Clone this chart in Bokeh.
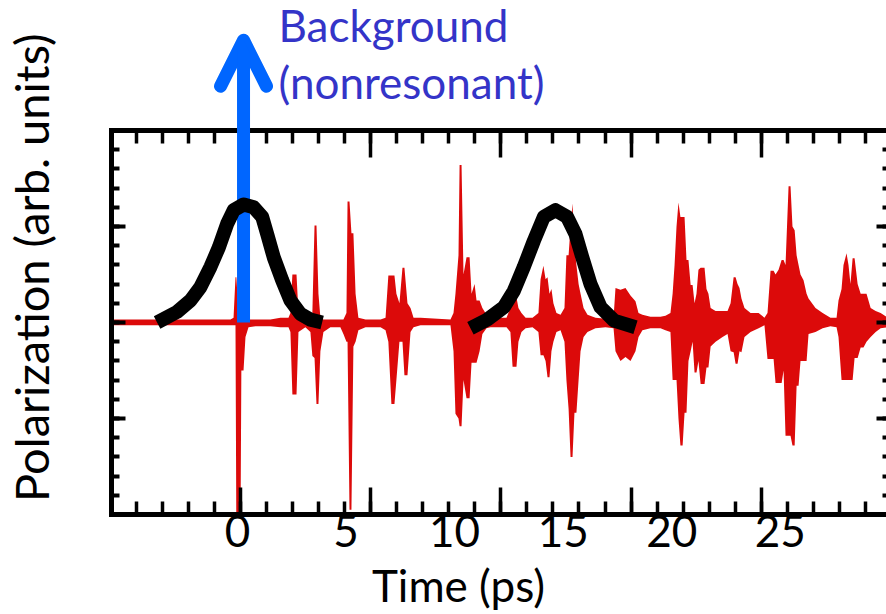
from bokeh.plotting import figure
from bokeh.models import (Range1d, LinearAxis, FixedTicker, SingleIntervalTicker,
                          Arrow, OpenHead, Label)
from bokeh.embed import file_html
from bokeh.resources import INLINE

# ---------------- data ----------------
# red polarization trace: time (ps) with upper / lower envelope of the fast oscillation
t_ps = [-5.80, -4.01, -0.32, -0.18, -0.09, -0.05, 0.05, 0.14, 0.18, 0.28,
        0.37, 0.51, 0.83, 1.52, 1.98, 2.35, 2.44, 2.53, 2.72, 2.81,
        3.13, 3.36, 3.45, 3.55, 3.64, 3.73, 3.82, 3.96, 4.28, 4.74,
        4.88, 5.02, 5.07, 5.16, 5.25, 5.34, 5.44, 5.57, 5.90, 6.59,
        6.82, 6.95, 7.09, 7.23, 7.32, 7.46, 7.60, 7.69, 7.83, 7.97,
        8.11, 8.43, 9.81, 9.95, 10.04, 10.18, 10.23, 10.32, 10.41, 10.55,
        10.69, 10.78, 10.92, 11.01, 11.15, 11.28, 11.47, 11.65, 12.11, 12.39,
        12.57, 12.67, 12.85, 12.94, 13.08, 13.27, 13.59, 13.86, 13.96, 14.09,
        14.19, 14.28, 14.37, 14.46, 14.55, 14.69, 14.88, 15.06, 15.15, 15.25,
        15.34, 15.43, 15.52, 15.61, 15.71, 15.80, 15.94, 16.12, 16.49, 16.95,
        17.32, 17.41, 17.64, 17.87, 18.10, 18.33, 18.47, 18.65, 19.02, 19.48,
        19.71, 19.94, 20.04, 20.13, 20.22, 20.31, 20.40, 20.50, 20.59, 20.68,
        20.77, 20.87, 20.96, 21.05, 21.14, 21.23, 21.33, 21.42, 21.51, 21.60,
        21.69, 21.79, 22.02, 22.34, 22.57, 22.71, 22.85, 22.94, 23.03, 23.12,
        23.21, 23.35, 23.63, 24.00, 24.27, 24.41, 24.55, 24.69, 24.78, 24.92,
        25.06, 25.15, 25.24, 25.38, 25.47, 25.56, 25.66, 25.75, 25.84, 25.93,
        26.07, 26.21, 26.30, 26.62, 26.95, 27.31, 27.59, 27.68, 27.82, 27.91,
        28.05, 28.14, 28.23, 28.33, 28.42, 28.56, 28.70, 28.83, 28.97, 29.16,
        29.39, 29.62, 29.89]

pol_upper = [0.03, 0.03, 0.03, 0.05, 0.47, 0.47, 0.10, 0.05, 0.03, 0.03,
             0.03, 0.03, 0.03, 0.03, 0.05, 0.05, 0.10, 0.50, 0.50, 0.10,
             0.05, 0.05, 0.10, 1.01, 1.01, 0.30, 0.05, 0.03, 0.03, 0.03,
             0.03, 0.10, 1.26, 1.26, 0.93, 0.93, 0.30, 0.05, 0.03, 0.03,
             0.05, 0.49, 0.49, 0.49, 0.30, 0.20, 0.57, 0.57, 0.20, 0.15,
             0.05, 0.05, 0.03, 0.10, 0.30, 0.70, 1.64, 1.64, 0.50, 0.68,
             0.68, 0.30, 0.40, 0.23, 0.23, 0.15, 0.08, 0.05, 0.05, 0.05,
             0.15, 0.26, 0.26, 0.15, 0.10, 0.05, 0.05, 0.10, 0.45, 0.59,
             0.45, 0.47, 0.30, 0.35, 0.20, 0.10, 0.08, 0.15, 0.70, 0.70,
             1.00, 1.24, 0.80, 0.60, 0.40, 0.30, 0.15, 0.08, 0.05, 0.04,
             0.05, 0.36, 0.34, 0.36, 0.28, 0.22, 0.10, 0.08, 0.06, 0.06,
             0.07, 0.10, 0.30, 0.60, 1.00, 1.25, 1.10, 1.10, 1.10, 0.65,
             0.65, 0.39, 0.39, 0.20, 0.30, 0.55, 0.57, 0.57, 0.57, 0.35,
             0.30, 0.15, 0.12, 0.12, 0.12, 0.20, 0.47, 0.47, 0.40, 0.36,
             0.25, 0.15, 0.10, 0.10, 0.05, 0.10, 0.54, 0.54, 0.50, 0.55,
             0.65, 0.65, 0.60, 1.42, 1.42, 1.00, 0.96, 0.70, 0.60, 0.50,
             0.44, 0.30, 0.25, 0.15, 0.10, 0.05, 0.05, 0.23, 0.35, 0.60,
             0.72, 0.60, 0.40, 0.67, 0.67, 0.40, 0.30, 0.30, 0.30, 0.15,
             0.12, 0.10, 0.06]

pol_lower = [-0.03, -0.03, -0.03, -0.03, -0.03, -2.20, -2.20, -2.20, -0.50, -0.50,
             -0.15, -0.05, -0.04, -0.04, -0.05, -0.05, -0.10, -0.75, -0.75, -0.10,
             -0.05, -0.10, -0.35, -0.37, -0.85, -0.85, -0.30, -0.10, -0.05, -0.05,
             -0.12, -0.20, -0.20, -1.95, -1.95, -0.25, -0.20, -0.08, -0.05, -0.05,
             -0.08, -0.20, -0.85, -0.85, -0.60, -0.20, -0.20, -0.55, -0.55, -0.10,
             -0.05, -0.03, -0.03, -0.30, -0.95, -1.00, -1.08, -1.08, -0.60, -0.79,
             -0.79, -0.42, -0.42, -0.42, -0.30, -0.12, -0.06, -0.05, -0.05, -0.05,
             -0.10, -0.46, -0.46, -0.20, -0.10, -0.06, -0.05, -0.10, -0.34, -0.34,
             -0.40, -0.57, -0.57, -0.30, -0.20, -0.10, -0.08, -0.20, -0.60, -0.90,
             -1.40, -1.40, -0.94, -0.94, -0.60, -0.30, -0.15, -0.10, -0.06, -0.05,
             -0.06, -0.30, -0.40, -0.36, -0.40, -0.30, -0.15, -0.08, -0.06, -0.06,
             -0.08, -0.10, -0.60, -0.60, -0.60, -1.00, -1.28, -1.28, -0.94, -0.94,
             -0.40, -0.30, -0.20, -0.52, -0.52, -0.40, -0.64, -0.64, -0.64, -0.47,
             -0.47, -0.25, -0.20, -0.15, -0.12, -0.30, -0.31, -0.43, -0.43, -0.30,
             -0.31, -0.15, -0.10, -0.06, -0.03, -0.38, -0.38, -0.38, -0.63, -0.63,
             -0.63, -0.50, -1.18, -1.18, -1.18, -1.28, -1.28, -0.66, -0.66, -0.40,
             -0.40, -0.40, -0.12, -0.10, -0.06, -0.04, -0.05, -0.15, -0.60, -0.60,
             -0.60, -0.60, -0.60, -0.60, -0.37, -0.37, -0.26, -0.26, -0.20, -0.15,
             -0.10, -0.06, -0.05]

# black probe pulses (gaussian-like envelopes)
pulse1_t = [-3.70, -2.78, -2.16, -1.70, -1.24, -0.86, -0.47, -0.17, 0.29, 0.75,
            1.14, 1.37, 1.67, 2.06, 2.44, 2.90, 3.36, 3.90]
pulse1_y = [0.00, 0.11, 0.23, 0.37, 0.58, 0.78, 1.03, 1.17, 1.23, 1.20,
            1.10, 0.92, 0.68, 0.44, 0.23, 0.09, 0.03, 0.00]
pulse2_t = [10.73, 11.50, 12.27, 12.73, 13.19, 13.65, 14.11, 14.65, 15.18, 15.57,
            15.88, 16.26, 16.72, 17.34, 18.33]
pulse2_y = [-0.06, 0.03, 0.16, 0.33, 0.58, 0.85, 1.10, 1.17, 1.10, 0.92,
            0.68, 0.40, 0.16, 0.02, -0.05]

# nonresonant background arrow (time, start, end)
bg_t = 0.28
bg_y0 = 0.0
bg_y1 = 2.94

x_tick_values = [0, 5, 10, 15, 20, 25]
x_title = "Time (ps)"
x_title_at = 10.18          # centre of the axis title, in ps
y_title = "Polarization (arb. units)"
y_title_at = 0.57           # centre of the axis title, in y units
note_lines = ["Background", "(nonresonant)"]
note_at = (1.89, [3.10, 2.50])

RED = "#DC0A0A"
BLUE = "#0066FF"
NOTE = "#3434C8"
FONT = "Lato"

# ---------------- figure ----------------
p = figure(width=886, height=614, x_range=Range1d(-5.80, 29.89), y_range=Range1d(-2, 3.354),
           output_backend="svg", toolbar_location=None,
           x_axis_location=None, y_axis_location=None,
           min_border_left=111, min_border_right=0, min_border_top=0, min_border_bottom=100)
p.extra_x_ranges = {"tk": Range1d(-4.954, 24.81)}
p.outline_line_color = None
p.background_fill_color = "white"
p.border_fill_color = "white"
p.grid.visible = False


def tick_axis(ax, major_in, minor_in, line=True, lw=4):
    ax.axis_line_color = "black" if line else None
    ax.axis_line_width = 5
    ax.axis_line_cap = "square"
    ax.major_tick_in = major_in
    ax.major_tick_out = 0
    ax.minor_tick_in = minor_in
    ax.minor_tick_out = 0
    ax.major_tick_line_width = lw
    ax.minor_tick_line_width = lw
    ax.major_tick_line_color = "black"
    ax.minor_tick_line_color = "black"
    ax.major_label_text_font_size = "1px"
    ax.major_label_text_color = None
    ax.major_label_standoff = 0
    return ax


def text_axis(ax, size, standoff):
    ax.axis_line_color = None
    ax.major_tick_in = 0
    ax.major_tick_out = 0
    ax.minor_tick_in = 0
    ax.minor_tick_out = 0
    ax.major_label_text_font = FONT
    ax.major_label_text_font_size = size
    ax.major_label_text_color = "black"
    ax.major_label_standoff = standoff
    return ax


# bottom edge (ticks), numbers, and the title as a centred label
xb = tick_axis(LinearAxis(x_range_name="tk", ticker=SingleIntervalTicker(interval=5, num_minor_ticks=5)),
               27, 13, lw=3.5)
p.add_layout(xb, "below")
xl = text_axis(LinearAxis(ticker=FixedTicker(ticks=x_tick_values)), "44px", 0)
p.add_layout(xl, "below")
xtt = text_axis(LinearAxis(ticker=FixedTicker(ticks=[x_title_at]),
                           major_label_overrides={x_title_at: x_title}), "44px", 9)
p.add_layout(xtt, "below")

# top edge of the box at y = 2
xt = tick_axis(LinearAxis(x_range_name="tk", ticker=SingleIntervalTicker(interval=5, num_minor_ticks=5),
                          fixed_location=2), 27, 13, lw=3.5)
p.add_layout(xt, "above")

# left edge + title
yl = tick_axis(LinearAxis(ticker=SingleIntervalTicker(interval=1, num_minor_ticks=5), bounds=(-2, 2)), 14, 8)
p.add_layout(yl, "left")
ytt = text_axis(LinearAxis(ticker=FixedTicker(ticks=[y_title_at]),
                           major_label_overrides={y_title_at: y_title}), "47px", 52)
ytt.major_label_orientation = "vertical"
p.add_layout(ytt, "left")

# right edge (the frame line itself is cut off in the reference)
yr = tick_axis(LinearAxis(ticker=SingleIntervalTicker(interval=1, num_minor_ticks=5), bounds=(-2, 2)),
               10, 4, line=False)
p.add_layout(yr, "right")

# red signal
p.varea(x=t_ps, y1=pol_lower, y2=pol_upper, fill_color=RED)

# blue arrow (background)
arrow = Arrow(end=OpenHead(size=46, line_color=BLUE, line_width=13,
                           line_cap="round", line_join="round"),
              x_start=bg_t, y_start=bg_y0, x_end=bg_t, y_end=bg_y1,
              line_color=BLUE, line_width=13, line_cap="butt")
p.add_layout(arrow)

# black pulses on top
for tt, yy in ((pulse1_t, pulse1_y), (pulse2_t, pulse2_y)):
    r = p.line(tt, yy, line_width=14, line_color="black", line_cap="butt", line_join="round")
    r.level = "overlay"

# annotation text
for txt, yy in zip(note_lines, note_at[1]):
    p.add_layout(Label(x=note_at[0], y=yy, text=txt, text_font=FONT, text_font_size="44px",
                       text_color=NOTE, text_align="left", text_baseline="alphabetic"))

open("out.html", "w").write(file_html(p, INLINE))
